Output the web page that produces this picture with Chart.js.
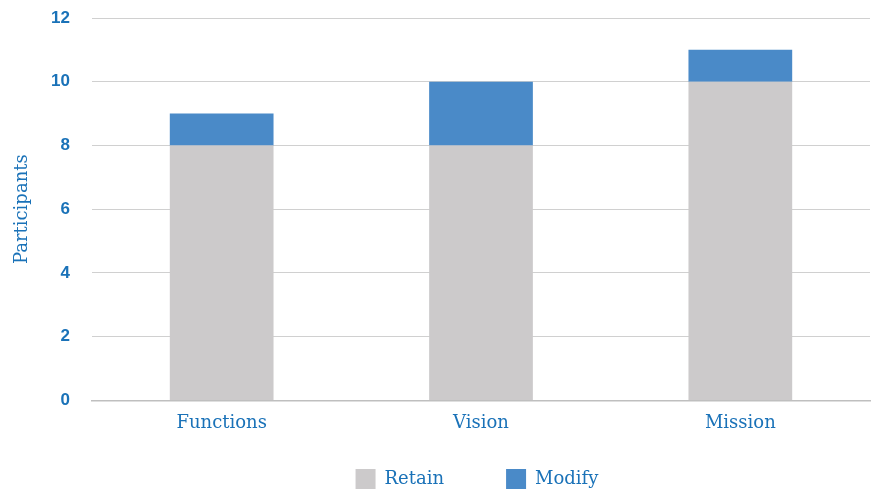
<!DOCTYPE html>
<html>
<head>
<meta charset="utf-8">
<script src="https://cdn.jsdelivr.net/npm/chart.js@4"></script>
<style>
  body { margin: 0; background: #fff; }
  #wrap { width: 880px; height: 491px; }
</style>
</head>
<body>
<div id="wrap"><canvas id="chart"></canvas></div>
<script>
const categories = ['Functions', 'Vision', 'Mission'];
const retain = [8, 8, 10];
const modify = [1, 2, 1];

const blueText = '#1a72b8';

// legend: wide gap between items but only a short strip under the axis,
// centred under the plot area
const legendSpace = {
  id: 'legendSpace',
  beforeInit(chart) {
    const fit = chart.legend.fit;
    chart.legend.fit = function () {
      fit.call(this);
      this.height = 45;
    };
  },
  beforeDraw(chart) {
    const lg = chart.legend;
    lg.top = 469 - 62;
    lg.left = chart.chartArea.left - 4;
    lg.right = chart.chartArea.right - 4;
  },
};

const ctx = document.getElementById('chart').getContext('2d');
new Chart(ctx, {
  type: 'bar',
  data: {
    labels: categories,
    datasets: [
      {
        label: 'Retain',
        data: retain,
        backgroundColor: '#cccacb',
        barPercentage: 0.4,
        categoryPercentage: 1,
      },
      {
        label: 'Modify',
        data: modify,
        backgroundColor: '#4a8ac8',
        barPercentage: 0.4,
        categoryPercentage: 1,
      },
    ],
  },
  options: {
    responsive: true,
    maintainAspectRatio: false,
    animation: false,
    layout: { padding: { top: 0, right: 10, left: 12, bottom: 0 } },
    scales: {
      x: {
        stacked: true,
        grid: { display: false, drawTicks: false },
        border: { color: '#bfbfbf', width: 1.5 },
        ticks: {
          color: blueText,
          font: { family: 'DejaVu Serif', size: 18 },
          padding: 12,
        },
      },
      y: {
        stacked: true,
        min: 0,
        max: 12,
        afterFit(scale) {
          scale.width = 80;
          scale.paddingTop = 18;
          scale.paddingBottom = 10;
        },
        ticks: {
          stepSize: 2,
          color: blueText,
          font: { family: 'Liberation Sans', size: 17, weight: 'bold' },
          padding: 22,
        },
        grid: { color: '#d0d0d0', lineWidth: 1, drawTicks: false },
        border: { display: false },
        title: {
          display: true,
          text: 'Participants',
          color: blueText,
          font: { family: 'DejaVu Serif', size: 18 },
          padding: 0,
        },
      },
    },
    plugins: {
      legend: {
        position: 'bottom',
        labels: {
          color: blueText,
          font: { family: 'DejaVu Serif', size: 18 },
          boxWidth: 20,
          boxHeight: 20,
          padding: 62,
        },
      },
      tooltip: { enabled: false },
    },
  },
  plugins: [legendSpace],
});
</script>
</body>
</html>
